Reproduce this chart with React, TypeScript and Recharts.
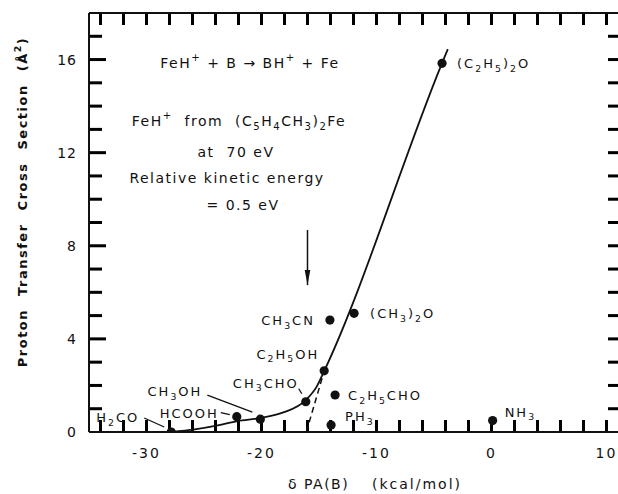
import React from 'react';
import { ComposedChart, XAxis, YAxis, Line, Scatter, Customized } from 'recharts';

// ---- data ----
const compounds = ['H_2CO', 'HCOOH', 'CH_3OH', 'CH_3CHO', 'C_2H_5OH', 'CH_3CN', '(CH_3)_2O', 'C_2H_5CHO', 'PH_3', 'NH_3', '(C_2H_5)_2O'];
const paValues = [-27.85, -22.15, -20.1, -16.15, -14.55, -14.05, -11.95, -13.6, -13.95, 0.1, -4.3];
const crossSections = [0.0, 0.66, 0.55, 1.3, 2.63, 4.81, 5.1, 1.59, 0.3, 0.49, 15.84];

const curveX = [-27.85, -25.8, -23.8, -22.1, -20.1, -18.1, -16.2, -15.2, -14.55, -4.3, -3.8];
const curveY = [0.0, 0.11, 0.28, 0.47, 0.6, 0.84, 1.35, 1.95, 2.62, 15.85, 16.45];

const dashX = [-16.1, -14.55];
const dashY = [0.0, 2.62];

const arrowX = [-16.0, -16.0];
const arrowY = [8.68, 6.31];

const xTicks = [-34, -32, -30, -28, -26, -24, -22, -20, -18, -16, -14, -12, -10, -8, -6, -4, -2, 0, 2, 4, 6, 8, 10];
const xLabels = [-30, -20, -10, 0, 10];
const yTicks = [0, 1, 2, 3, 4, 5, 6, 7, 8, 9, 10, 11, 12, 13, 14, 15, 16, 17];
const yLabels = [0, 4, 8, 12, 16];

const xTitleA = 'δ PA(B)';
const xTitleB = '(kcal/mol)';
const yTitle = 'Proton Transfer Cross Section (Å^2)';
const noteLines = ['FeH^+ + B → BH^+ + Fe', 'FeH^+  from  (C_5H_4CH_3)_2Fe', 'at  70 eV', 'Relative kinetic energy', '= 0.5 eV'];

// ---- layout / style ----
const FONT = '"DejaVu Sans", sans-serif';
const INK = '#111';
const TICK_INK = '#000';
const X_MIN = -35;
const X_MAX = 11;
const Y_MIN = 0;
const Y_MAX = 18;
const CHART_W = 618;
const CHART_H = 494;
const TOP_H = 13;
const LEFT_W = 89;
const BOTTOM_H = 62;
const PLOT_L = LEFT_W;
const PLOT_R = CHART_W;
const PLOT_T = TOP_H;
const PLOT_B = CHART_H - BOTTOM_H;
const axisPx = (v: number) => PLOT_L + ((v - X_MIN) / (X_MAX - X_MIN)) * (PLOT_R - PLOT_L);
const axisPy = (v: number) => PLOT_B - ((v - Y_MIN) / (Y_MAX - Y_MIN)) * (PLOT_B - PLOT_T);

const labelLayout: Record<string, { dx: number; dy: number; anchor: 'start' | 'end'; leader?: number[] }> = {
  'H_2CO': { dx: -32, dy: -15, anchor: 'end', leader: [-27, -14, -7, -5] },
  'HCOOH': { dx: -18, dy: -4, anchor: 'end', leader: [-16, -4, -7, -2] },
  'CH_3OH': { dx: -58, dy: -28, anchor: 'end', leader: [-53, -24, -8, -7] },
  'CH_3CHO': { dx: -7, dy: -19, anchor: 'end', leader: [-7, -13, -4, -8] },
  'C_2H_5OH': { dx: -5, dy: -17, anchor: 'end' },
  'CH_3CN': { dx: -15, dy: 0, anchor: 'end' },
  '(CH_3)_2O': { dx: 16, dy: 0, anchor: 'start' },
  'C_2H_5CHO': { dx: 13, dy: 0, anchor: 'start' },
  'PH_3': { dx: 14, dy: -9, anchor: 'start' },
  'NH_3': { dx: 12, dy: -9, anchor: 'start' },
  '(C_2H_5)_2O': { dx: 15, dy: 0, anchor: 'start' },
};

function parseChem(s: string) {
  const parts: { t: string; k: 'n' | 'sub' | 'sup' }[] = [];
  let buf = '';
  let i = 0;
  while (i < s.length) {
    const c = s[i];
    if ((c === '_' || c === '^') && i + 1 < s.length) {
      if (buf) { parts.push({ t: buf, k: 'n' }); buf = ''; }
      parts.push({ t: s[i + 1], k: c === '_' ? 'sub' : 'sup' });
      i += 2;
    } else {
      buf += c;
      i += 1;
    }
  }
  if (buf) parts.push({ t: buf, k: 'n' });
  return parts;
}

function Chem(props: { x: number; y: number; s: string; anchor?: string; size?: number; ls?: number; weight?: string | number; ws?: number; transform?: string }) {
  const { x, y, s, anchor = 'start', size = 13, ls = 2, weight = 'normal', ws = 0, transform } = props;
  const parts = parseChem(s);
  let shift = 0;
  return (
    <text x={x} y={y} textAnchor={anchor as any} dominantBaseline="central" fontFamily={FONT} fontSize={size}
      fontWeight={weight} letterSpacing={ls} wordSpacing={ws} fill={INK} style={{ whiteSpace: 'pre' }} transform={transform}>
      {parts.map((p, i) => {
        const target = p.k === 'sub' ? size * 0.35 : p.k === 'sup' ? -size * 0.4 : 0;
        const dy = target - shift;
        shift = target;
        return (
          <tspan key={i} dy={dy} fontSize={p.k === 'n' ? size : size * 0.72}>{p.t}</tspan>
        );
      })}
    </text>
  );
}

const BottomTick = (props: any) => {
  const { x, y, payload } = props;
  const v = payload.value;
  if (!xLabels.includes(v)) return <g />;
  return (
    <text x={x} y={y + 21} textAnchor="middle" dominantBaseline="central" fontFamily={FONT} fontSize={14} letterSpacing={2} fill={INK}>{String(v)}</text>
  );
};

const LeftTick = (props: any) => {
  const { x, y, payload } = props;
  const v = payload.value;
  if (!yLabels.includes(v)) return <g />;
  return (
    <text x={x - 12} y={y} textAnchor="end" dominantBaseline="central" fontFamily={FONT} fontSize={14} letterSpacing={1} fill={INK}>{String(v)}</text>
  );
};

const TW = 3; // tick thickness

const FrameTicks = () => (
  <g>
    {xTicks.map((t) => (
      <rect key={`b${t}`} x={axisPx(t) - TW / 2} y={PLOT_B - 12} width={TW} height={12} fill={TICK_INK} />
    ))}
    {xTicks.map((t) => (
      <rect key={`t${t}`} x={axisPx(t) - TW / 2} y={PLOT_T} width={TW} height={12} fill={TICK_INK} />
    ))}
    {yTicks.filter((t) => t > 0).map((t) => (
      <rect key={`l${t}`} x={PLOT_L} y={axisPy(t) - TW / 2} width={yLabels.includes(t) ? 17 : 13} height={TW} fill={TICK_INK} />
    ))}
    {yTicks.filter((t) => t > 0).map((t) => (
      <rect key={`r${t}`} x={PLOT_R - 10} y={axisPy(t) - TW / 2} width={10} height={TW} fill={TICK_INK} />
    ))}
  </g>
);

const PointShape = (props: any) => {
  const { cx, cy, index } = props;
  const name: string = (props.payload && props.payload.name) || compounds[index];
  const lay = labelLayout[name];
  return (
    <g>
      <circle cx={cx} cy={cy} r={4.6} fill={INK} />
      {lay && lay.leader && (
        <line x1={cx + lay.leader[0]} y1={cy + lay.leader[1]} x2={cx + lay.leader[2]} y2={cy + lay.leader[3]} stroke={INK} strokeWidth={1.3} />
      )}
      {lay && <Chem x={cx + lay.dx} y={cy + lay.dy} s={name} anchor={lay.anchor} size={13} ls={2} />}
    </g>
  );
};

const ArrowDot = (props: any) => {
  const { cx, cy, index } = props;
  if (index !== arrowX.length - 1) return <g key={`a${index}`} />;
  return <path key={`a${index}`} d={`M${cx - 2.8},${cy - 15} L${cx + 2.8},${cy - 15} L${cx},${cy} Z`} fill={INK} />;
};

const Annotations = () => (
  <g>
    <FrameTicks />
    <Chem x={250} y={63} s={noteLines[0]} anchor="middle" size={14} ls={1.5} />
    <Chem x={239} y={121} s={noteLines[1]} anchor="middle" size={14} ls={1.5} />
    <Chem x={236} y={152} s={noteLines[2]} anchor="middle" size={14} ls={1.5} />
    <Chem x={227} y={178} s={noteLines[3]} anchor="middle" size={14} ls={1.5} />
    <Chem x={243} y={205} s={noteLines[4]} anchor="middle" size={14} ls={1.5} />
    <Chem x={288} y={484} s={xTitleA} anchor="start" size={14} ls={1.5} />
    <Chem x={372} y={484} s={xTitleB} anchor="start" size={14} ls={2} />
    <Chem x={22} y={202} s={yTitle} anchor="middle" size={13} ls={1.5} weight="bold" ws={7} transform="rotate(-90 22 202)" />
  </g>
);

const curveData = curveX.map((x, i) => ({ x, y: curveY[i] }));
const dashData = dashX.map((x, i) => ({ x, y: dashY[i] }));
const arrowData = arrowX.map((x, i) => ({ x, y: arrowY[i] }));
const pointData = compounds.map((name, i) => ({ x: paValues[i], y: crossSections[i], name }));

export default function App() {
  return (
    <div style={{ position: 'absolute', left: 0, top: 0, background: '#fff' }}>
      <ComposedChart width={CHART_W} height={CHART_H} margin={{ top: 0, right: 0, bottom: 0, left: 0 }}>
        <XAxis type="number" dataKey="x" domain={[X_MIN, X_MAX]} ticks={xTicks} interval={0} height={BOTTOM_H}
          tickSize={0} tickMargin={0} tickLine={false} axisLine={{ stroke: INK, strokeWidth: 2 }} tick={<BottomTick />} allowDataOverflow />
        <XAxis xAxisId="top" orientation="top" type="number" dataKey="x" domain={[X_MIN, X_MAX]} height={TOP_H}
          tickLine={false} axisLine={{ stroke: INK, strokeWidth: 2 }} tick={false} allowDataOverflow />
        <YAxis type="number" dataKey="y" domain={[Y_MIN, Y_MAX]} ticks={yTicks} interval={0} width={LEFT_W}
          tickSize={0} tickMargin={0} tickLine={false} axisLine={{ stroke: INK, strokeWidth: 2 }} tick={<LeftTick />} allowDataOverflow />
        <Line data={curveData} dataKey="y" type="monotone" stroke={INK} strokeWidth={1.8} dot={false} isAnimationActive={false} />
        <Line data={dashData} dataKey="y" type="linear" stroke={INK} strokeWidth={1.5} strokeDasharray="6 4" dot={false} isAnimationActive={false} />
        <Line data={arrowData} dataKey="y" type="linear" stroke={INK} strokeWidth={1.5} dot={ArrowDot} isAnimationActive={false} />
        <Scatter data={pointData} dataKey="y" shape={PointShape} isAnimationActive={false} />
        <Customized component={<Annotations />} />
      </ComposedChart>
    </div>
  );
}
